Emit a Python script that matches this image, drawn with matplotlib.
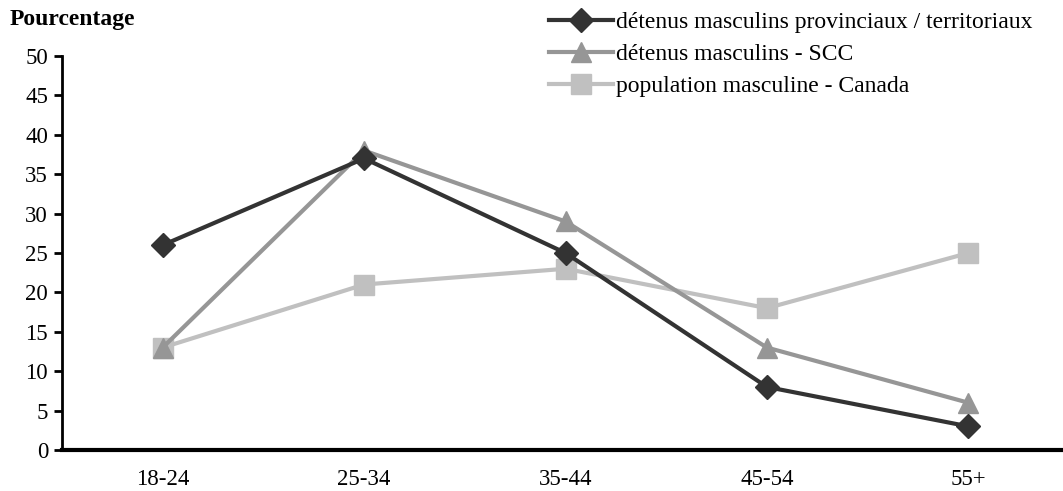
import matplotlib
matplotlib.use("Agg")
import matplotlib.pyplot as plt

categories = ["18-24", "25-34", "35-44", "45-54", "55+"]
provincial = [26, 37, 25, 8, 3]
scc = [13, 38, 29, 13, 6]
canada = [13, 21, 23, 18, 25]
labels = ["détenus masculins provinciaux / territoriaux",
          "détenus masculins - SCC",
          "population masculine - Canada"]

plt.rcParams['font.family'] = ['Liberation Serif', 'DejaVu Serif']

fig = plt.figure(figsize=(10.63, 4.91), dpi=100)
ax = fig.add_axes([62/1063, (491-450)/491, 1 - 62/1063, (450-56)/491])

x = list(range(len(categories)))
ax.plot(x, provincial, color='#333333', lw=3, marker='D', ms=12, label=labels[0], zorder=3)
ax.plot(x, scc, color='#969696', lw=3, marker='^', ms=15, label=labels[1], zorder=2)
ax.plot(x, canada, color='#c0c0c0', lw=3, marker='s', ms=14, label=labels[2], zorder=1)

ax.set_xlim(-0.5, 4.47)
ax.set_ylim(0, 50)
ax.set_yticks(range(0, 51, 5))
ax.set_xticks(x)
ax.set_xticklabels(categories)
ax.tick_params(axis='x', length=0, pad=14, labelsize=16.5)
ax.tick_params(axis='y', length=6, width=2, direction='out', labelsize=16.5, pad=4)
for s in ['top', 'right']:
    ax.spines[s].set_visible(False)
ax.spines['left'].set_linewidth(2)
ax.spines['bottom'].set_linewidth(3)

fig.text(10/1063, 1 - 20/491, "Pourcentage", fontsize=17, fontweight='bold', va='center', ha='left')

leg = fig.legend(loc='upper left', bbox_to_anchor=(540/1063, 1 - 2/491), frameon=False,
                 fontsize=17, handlelength=2.7, handletextpad=0.1, labelspacing=0.45,
                 borderaxespad=0)

fig.savefig("out.png", dpi=100)
